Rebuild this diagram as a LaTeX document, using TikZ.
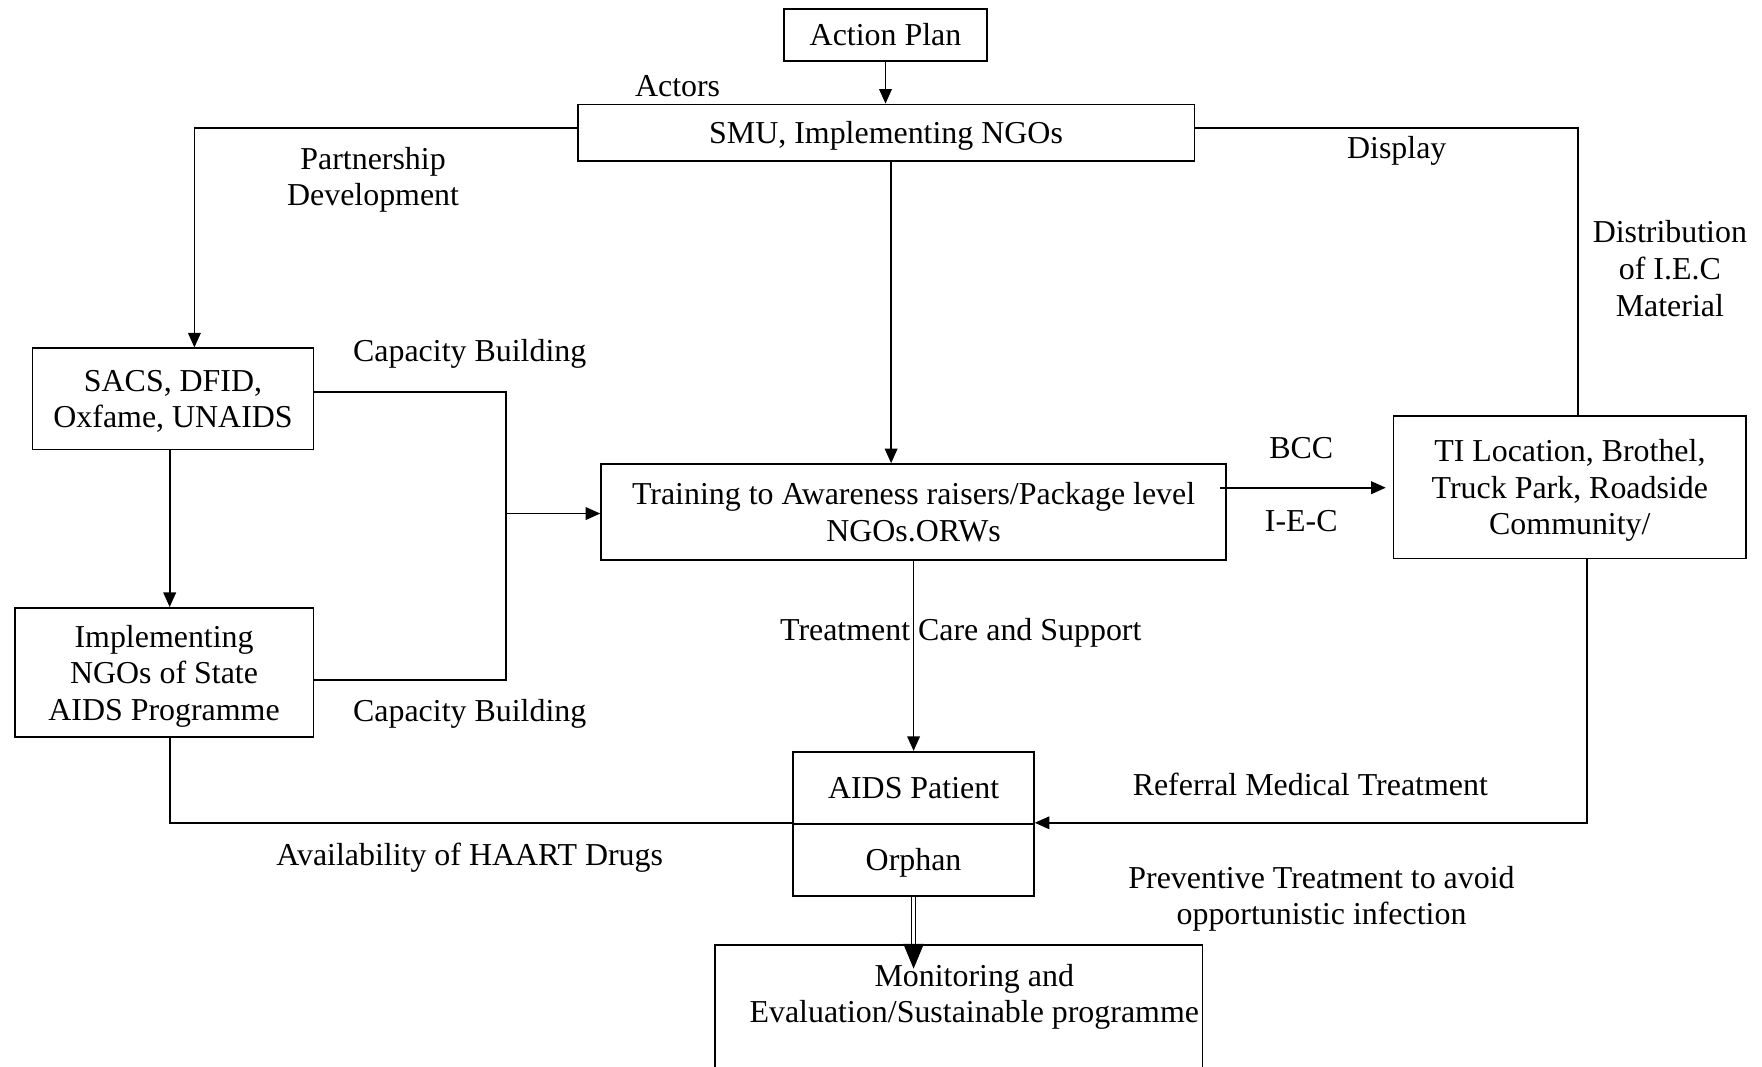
\documentclass[tikz,border=0pt]{standalone}
\usepackage{fontspec}
\setmainfont{Liberation Serif}
\usetikzlibrary{arrows.meta}
\begin{document}
\begin{tikzpicture}[x=0.5pt, y=-0.5pt,
  every node/.style={font=\fontsize{14.2}{16.3}\selectfont},
  box/.style={draw, line width=0.8pt, inner sep=0pt, align=center, text depth=0pt},
  lbl/.style={inner sep=0pt, align=center},
  conn/.style={line width=0.8pt},
  arr/.style={conn, -{Triangle[length=6.5pt, width=5.6pt]}},
]
\useasboundingbox (0,0) rectangle (1568,949);

% boxes
\node[box, minimum width=90pt, minimum height=23pt] (plan) at (788,31) {Action Plan};
\node[box, minimum width=274.5pt, minimum height=25pt] (smu) at (788.5,118) {SMU, Implementing NGOs};
\node[box, minimum width=125pt, minimum height=45pt] (sacs) at (154,355) {SACS, DFID,\\Oxfame, UNAIDS};
\node[box, minimum width=133pt, minimum height=57.5pt] (impl) at (146,598.5) {Implementing\\NGOs of State\\AIDS Programme};
\node[box, minimum width=278pt, minimum height=42.5pt] (train) at (813,455.5) {Training to Awareness raisers/Package level\\NGOs.ORWs};
\node[box, minimum width=157pt, minimum height=63.5pt] (ti) at (1397,433.5) {TI Location, Brothel,\\Truck Park, Roadside\\Community/};
\node[box, minimum width=107pt, minimum height=32pt] (pat) at (813,701) {AIDS Patient};
\node[box, minimum width=107pt, minimum height=32pt] (orph) at (813,765) {Orphan};
\node[box, anchor=north, minimum width=217pt, minimum height=65pt] (mon) at (853,840) {};
\node[lbl] (montext) at (867,887) {Monitoring and\\Evaluation/Sustainable programme};

% labels
\node[lbl] (actors) at (603,77) {Actors};
\node[lbl] (partner) at (332,160) {Partnership\\Development};
\node[lbl] (display) at (1243,134) {Display};
\node[lbl] (distrib) at (1486,239) {Distribution\\of I.E.C\\Material};
\node[lbl] (cap1) at (418,315) {Capacity Building};
\node[lbl] (cap2) at (418,635) {Capacity Building};
\node[lbl] (bcc) at (1158,399) {BCC};
\node[lbl] (iec) at (1158,464) {I-E-C};
\node[lbl] (tcs) at (855,563) {Treatment Care and Support};
\node[lbl] (refer) at (1166,698) {Referral Medical Treatment};
\node[lbl] (haart) at (418,763) {Availability of HAART Drugs};
\node[lbl] (prevent) at (1176,800) {Preventive Treatment to avoid\\opportunistic infection};

% connectors
\coordinate (bus) at (450,457);
\draw[arr] (plan.south) -- (plan.south |- smu.north);
\draw[arr] ([yshift=2pt]smu.west) -| ([xshift=9.5pt]sacs.north);
\draw[conn] ([yshift=2pt]smu.east) -| ([xshift=3.5pt]ti.north);
\draw[arr] ([xshift=2.25pt]smu.south) -- ([xshift=2.25pt]smu.south |- train.north);
\draw[conn] ([yshift=3pt]sacs.east) -| (bus) |- ([yshift=-3.25pt]impl.east);
\draw[arr] (bus) -- (bus -| train.west);
\draw[arr] ([xshift=-1.5pt]sacs.south) -- ([xshift=-1.5pt]sacs.south |- impl.north);
\draw[arr] ([xshift=-3pt,yshift=10.75pt]train.east) -- ([xshift=-3pt,yshift=10.75pt]train.east -| ti.west);
\draw[arr] (train.south) -- (pat.north);
\draw[conn] ([xshift=2.5pt]impl.south) |- (orph.north west);
\draw[arr] ([xshift=7.5pt]ti.south) |- (orph.north east);
\draw[line width=0.55pt, double, double distance=1.2pt] (orph.south) -- (orph.south |- mon.north);
\draw[line width=0.5pt, -{Triangle[length=11pt, width=9pt]}] (orph.south |- mon.north) -- ++(0,22);
\end{tikzpicture}
\end{document}
